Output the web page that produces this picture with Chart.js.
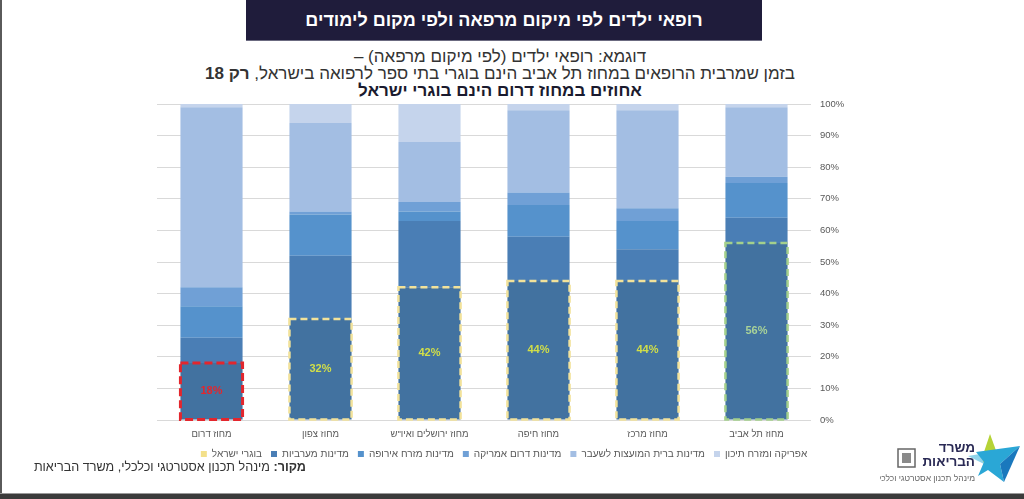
<!DOCTYPE html>
<html lang="he">
<head>
<meta charset="utf-8">
<script src="https://cdn.jsdelivr.net/npm/chart.js@4.4.0/dist/chart.umd.min.js"></script>
<style>
  html, body { margin:0; padding:0; background:#fff; }
  body { width:1024px; height:499px; position:relative; overflow:hidden; font-family:"Liberation Sans", Arial, sans-serif; }
  #leftbar { position:absolute; left:0; top:0; width:2px; height:499px; background:#5a5a5a; }
  #bottombar { position:absolute; left:0; top:493px; width:1024px; height:6px; background:#3b3b3b; border-top:1px solid #9a9a9a; }
  #titlebox { position:absolute; left:246px; top:0; width:516px; height:40px; background:#1f1c3b; border-bottom:1px solid #6b6a80; color:#fff; font-weight:bold; font-size:18px; line-height:40px; text-align:center; direction:rtl; }
  .sub { position:absolute; left:150px; width:700px; text-align:center; direction:rtl; font-size:17px; line-height:17px; color:#333; white-space:nowrap; }
  #source { position:absolute; left:20px; width:286px; top:460px; text-align:right; direction:rtl; font-size:12.6px; color:#333; white-space:nowrap; }
  #c { position:absolute; left:0; top:0; }
  #logo { position:absolute; left:880px; top:430px; width:144px; height:62px; }
</style>
</head>
<body>
<div id="leftbar"></div>
<div id="titlebox">רופאי ילדים לפי מיקום מרפאה ולפי מקום לימודים</div>
<div class="sub" style="top:48px;">דוגמא: רופאי ילדים (לפי מיקום מרפאה) –</div>
<div class="sub" style="top:65px;">בזמן שמרבית הרופאים במחוז תל אביב הינם בוגרי בתי ספר לרפואה בישראל, <b>רק 18</b></div>
<div class="sub" style="top:82px;font-weight:bold;color:#1a1a2e;">אחוזים במחוז דרום הינם בוגרי ישראל</div>
<canvas id="c" width="1024" height="499"></canvas>
<div id="source"><b>מקור:</b> מינהל תכנון אסטרטגי וכלכלי, משרד הבריאות</div>
<div id="logo">
  <svg width="144" height="62" viewBox="0 0 144 62">
    <polygon points="88,26 112,22 104,34" fill="#8fd3ea"/>
    <polygon points="110,4 118,26 106,38 102,28" fill="#b5d336"/>
    <polygon points="96,22 140,16 120,34 124,52 108,40 98,46 104,32" fill="#2aa7d6"/>
    <polygon points="120,34 140,16 124,52" fill="#1a78bd"/>
    <rect x="18" y="19" width="17" height="18" fill="#fff" stroke="#666" stroke-width="1.5"/>
    <rect x="22" y="23" width="9" height="10" fill="#8a8a8a"/>
    <text x="95" y="22" text-anchor="end" font-family="Liberation Sans, Arial" font-weight="bold" font-size="13.5" fill="#2a2a55">משרד</text>
    <text x="95" y="36" text-anchor="end" font-family="Liberation Sans, Arial" font-weight="bold" font-size="13.5" fill="#2a2a55">הבריאות</text>
    <text x="95" y="51" text-anchor="end" font-family="Liberation Sans, Arial" font-size="8.5" fill="#666">מינהל תכנון אסטרטגי וכלכלי</text>
  </svg>
</div>
<div id="bottombar"></div>
<script>
const categories = ['מחוז תל אביב', 'מחוז מרכז', 'מחוז חיפה', 'מחוז ירושלים ואיו"ש', 'מחוז צפון', 'מחוז דרום'];
const seriesNames = ['בוגרי ישראל', 'מדינות מערביות', 'מדינות מזרח אירופה', 'מדינות דרום אמריקה', 'מדינות ברית המועצות לשעבר', 'אפריקה ומזרח תיכון'];
const israel       = [56, 44, 44, 42, 32, 18];
const western      = [8, 10, 14, 21, 20, 8];
const eastEurope   = [11, 9, 10, 3, 13, 10];
const southAmerica = [2, 4, 4, 3, 1, 6];
const formerUSSR   = [22, 31, 26, 19, 28, 57];
const africaME     = [1, 2, 2, 12, 6, 1];
const yTicks = [0, 10, 20, 30, 40, 50, 60, 70, 80, 90, 100];

const seriesColors = ['#4272a0', '#4a7eb5', '#5592cc', '#70a0d6', '#a3bee3', '#c5d4ec'];
const israelLegendColor = '#f3e08a';
const highlightColors = ['#a4d08c', '#f2e29a', '#f2e29a', '#f2e29a', '#f2e29a', '#e3262d'];
const highlightText   = ['#a9d398', '#d2df48', '#d2df48', '#d2df48', '#d2df48', '#e3262d'];

const allSeries = [israel, western, eastEurope, southAmerica, formerUSSR, africaME];

const highlightPlugin = {
  id: 'highlight',
  afterDatasetsDraw(chart) {
    const ctx = chart.ctx;
    const meta = chart.getDatasetMeta(0);
    meta.data.forEach((bar, i) => {
      const p = bar.getProps(['x', 'y', 'base', 'width'], true);
      const left = p.x - p.width / 2, top = p.y, h = p.base - p.y;
      ctx.save();
      const red = i === categories.length - 1;
      ctx.lineWidth = red ? 3 : 2.5;
      ctx.setLineDash(red ? [8, 4] : [7, 4]);
      ctx.strokeStyle = highlightColors[i];
      ctx.strokeRect(left, top, p.width, h);
      ctx.setLineDash([]);
      ctx.fillStyle = highlightText[i];
      ctx.font = 'bold 11px "Liberation Sans", Arial, sans-serif';
      ctx.textAlign = 'center';
      ctx.textBaseline = 'middle';
      ctx.fillText(israel[i] + '%', p.x, top + h / 2);
      ctx.restore();
    });
  }
};

new Chart(document.getElementById('c'), {
  type: 'bar',
  data: {
    labels: categories,
    datasets: allSeries.map((d, k) => ({
      label: seriesNames[k],
      data: d,
      backgroundColor: seriesColors[k],
      borderWidth: 0,
      barPercentage: 0.57,
      categoryPercentage: 1.0
    }))
  },
  options: {
    responsive: false,
    animation: false,
    events: [],
    layout: { padding: { left: 157, right: 173, top: 104, bottom: 30 } },
    scales: {
      x: {
        stacked: true,
        reverse: true,
        grid: { display: false, drawTicks: false },
        border: { display: false },
        ticks: { color: '#595959', font: { size: 9.5, family: '"Liberation Sans", Arial, sans-serif' }, padding: 9, maxRotation: 0 },
        afterFit(s) { s.height = 20; }
      },
      y: {
        stacked: true,
        position: 'right',
        min: 0, max: 100,
        afterBuildTicks(s) { s.ticks = yTicks.map(v => ({ value: v })); },
        grid: { color: '#d9d9d9', lineWidth: 1, drawTicks: false },
        border: { display: false },
        ticks: { color: '#595959', font: { size: 9.5, family: '"Liberation Sans", Arial, sans-serif' }, padding: 9, callback: v => v + '%' },
        afterFit(s) { s.width = 40; }
      }
    },
    plugins: {
      legend: {
        position: 'bottom',
        labels: {
          boxWidth: 6, boxHeight: 6, padding: 9,
          color: '#595959',
          font: { size: 10, family: '"Liberation Sans", Arial, sans-serif' },
          generateLabels(chart) {
            const items = Chart.defaults.plugins.legend.labels.generateLabels(chart);
            items.forEach(it => { it.lineWidth = 0; if (it.datasetIndex === 0) it.fillStyle = israelLegendColor; });
            return items;
          }
        }
      },
      tooltip: { enabled: false }
    }
  },
  plugins: [highlightPlugin]
});
</script>
</body>
</html>
